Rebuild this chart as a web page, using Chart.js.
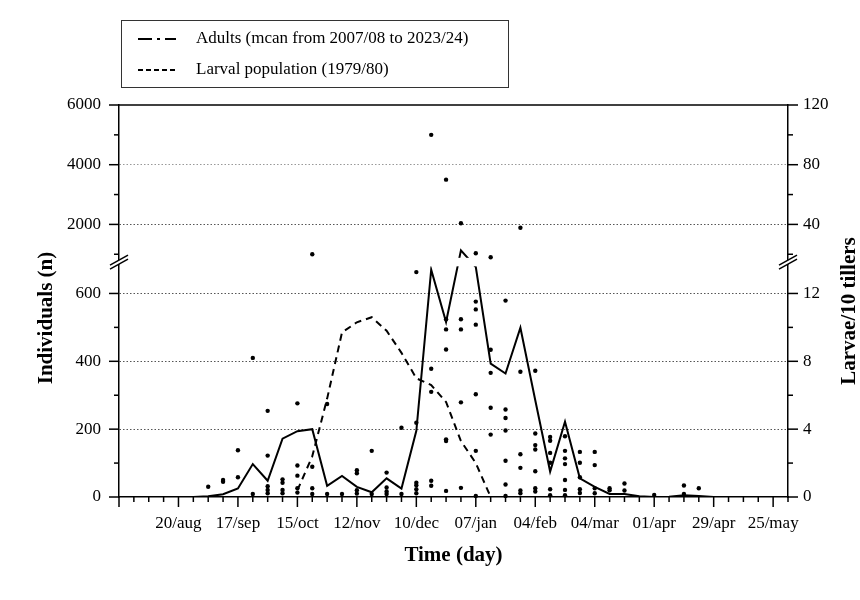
<!DOCTYPE html>
<html>
<head>
<meta charset="utf-8">
<script src="https://cdn.jsdelivr.net/npm/chart.js@4.4.0/dist/chart.umd.min.js"></script>
<style>
  html, body { margin: 0; padding: 0; background: #fff; }
</style>
</head>
<body>
<canvas id="myChart" width="860" height="600"></canvas>
<script>
// one category per week, 23/jul .. 01/jun, labelled every 4 weeks
const weekNames = ['20/aug', '17/sep', '15/oct', '12/nov', '10/dec', '07/jan', '04/feb', '04/mar', '01/apr', '29/apr', '25/may'];
const weekLabels = Array.from({ length: 46 }, (_, i) => (i > 0 && i % 4 === 0) ? weekNames[i / 4 - 1] : '');

// adults, mean 2007/08 - 2023/24 (individuals)
const adults = [null, null, null, null, null, 0, 2, 8, 25, 97, 48, 172, 194, 200, 33, 62, 30, 14, 55, 25,
  195, 670, 516, 1130, 678, 393, 364, 499, 285, 75, 222, 55, 30, 9, 9, 2, 0, 1, 5, 3, 0, null, null, null, null, null];

// larval population 1979/80 (larvae / 10 tillers)
const larvae = [null, null, null, null, null, null, null, null, null, null, null, null,
  0.4, 2.4, 5.8, 9.7, 10.3, 10.6, 9.8, 8.5, 7.0, 6.6, 5.6, 3.3, 2.0, 0,
  null, null, null, null, null, null, null, null, null, null, null, null, null, null, null, null, null, null, null, null];

// single seasons, per week (individuals)
const yearlyCounts = [
  [], [], [], [], [], [],
  [30], [45, 50], [138, 58], [410, 9], [254, 122, 32, 21, 11], [52, 42, 21, 11],
  [276, 93, 63, 26, 13], [1000, 89, 26, 9], [274, 9], [9], [79, 70, 20, 10], [136, 9],
  [72, 28, 16, 9], [204, 9], [663, 219, 42, 35, 23, 11], [5000, 378, 310, 48, 33],
  [3500, 524, 494, 435, 170, 165, 18], [2040, 524, 494, 279, 27],
  [1035, 576, 553, 508, 303, 136, 3], [900, 434, 366, 263, 184],
  [579, 258, 233, 196, 107, 37, 3], [1890, 369, 126, 86, 19, 11],
  [372, 187, 153, 140, 76, 26, 16], [177, 166, 130, 101, 23, 5],
  [179, 136, 114, 97, 50, 21, 5], [133, 101, 58, 23, 12], [133, 94, 26, 11],
  [26, 20], [40, 19], [], [6], [], [34, 9], [26],
  [], [], [], [], [], []
];

const leftMajor = [0, 200, 400, 600, 2000, 4000, 6000];
const leftMinor = [100, 300, 500, 1000, 3000, 5000];
const rightMajor = [0, 4, 8, 12, 40, 80, 120];
const rightMinor = [2, 6, 10, 20, 60, 100];
const larvaeToAdults = 50;   // right axis = left axis / 50

// broken axis: 0-680 below, 880-6000 above, compressed
const lowMax = 680, highMin = 880, gapUnits = 25, highRatio = 0.088;
function toAxis(v) {
  if (v == null) return null;
  if (v <= lowMax) return v;
  if (v >= highMin) return lowMax + gapUnits + (v - highMin) * highRatio;
  return lowMax + (v - lowMax) / (highMin - lowMax) * gapUnits;
}

const leftTicks = leftMajor.concat(leftMinor).sort((a, b) => a - b);
const rightTicks = rightMajor.concat(rightMinor).sort((a, b) => a - b);
const FONT = "'Liberation Serif', 'Times New Roman', serif";

const dotPoints = [];
yearlyCounts.forEach((vals, i) => vals.forEach(v => dotPoints.push({ x: i, y: toAxis(v) })));

function gridColor(ctx) {
  const r = ctx.tick && ctx.tick.real;
  if (r === 4000) return '#999';
  if ([200, 400, 600, 2000].includes(r)) return '#555';
  return 'transparent';
}

function line(ctx, x1, y1, x2, y2) {
  ctx.beginPath(); ctx.moveTo(x1, y1); ctx.lineTo(x2, y2); ctx.stroke();
}

function breakMark(ctx, x, yc) {
  const dx = 9, dy = 5, s = 2;
  ctx.fillStyle = '#fff';
  ctx.beginPath();
  ctx.moveTo(x - dx, yc + dy - s); ctx.lineTo(x + dx, yc - dy - s);
  ctx.lineTo(x + dx, yc - dy + s); ctx.lineTo(x - dx, yc + dy + s);
  ctx.closePath(); ctx.fill();
  line(ctx, x - dx, yc + dy - s, x + dx, yc - dy - s);
  line(ctx, x - dx, yc + dy + s, x + dx, yc - dy + s);
}

const decor = {
  id: 'decor',
  beforeDatasetDraw(chart, args) {
    if (args.index !== 0) return;
    // hide lines inside the axis break
    const { ctx, chartArea: a, scales: { y } } = chart;
    const top = y.getPixelForValue(toAxis(highMin));
    const bot = y.getPixelForValue(toAxis(lowMax));
    ctx.save();
    ctx.fillStyle = '#fff';
    ctx.fillRect(a.left + 1, top, a.width - 2, bot - top);
    ctx.restore();
  },
  afterDraw(chart) {
    const { ctx, chartArea: a, scales: { x, y, yR } } = chart;
    ctx.save();
    ctx.strokeStyle = '#000';
    ctx.lineWidth = 1.5;
    ctx.setLineDash([]);
    line(ctx, a.left, a.top, a.right, a.top);

    leftTicks.forEach(r => {
      const py = y.getPixelForValue(toAxis(r));
      const len = leftMajor.includes(r) ? 10 : 5;
      line(ctx, a.left - len, py, a.left, py);
    });
    rightTicks.forEach(r => {
      const py = yR.getPixelForValue(toAxis(r * larvaeToAdults));
      const len = rightMajor.includes(r) ? 10 : 5;
      line(ctx, a.right, py, a.right + len, py);
    });
    weekLabels.forEach((_, i) => {
      const px = x.getPixelForValue(i);
      const len = i % 4 === 0 ? 10 : 5;
      line(ctx, px, a.bottom, px, a.bottom + len);
    });

    const yc = (y.getPixelForValue(toAxis(highMin)) + y.getPixelForValue(toAxis(lowMax))) / 2;
    breakMark(ctx, a.left, yc);
    breakMark(ctx, a.right, yc);

    // axis titles
    ctx.fillStyle = '#000';
    ctx.font = 'bold 21px ' + FONT;
    ctx.textAlign = 'center';
    ctx.textBaseline = 'middle';
    ctx.fillText('Time (day)', (a.left + a.right) / 2, 556);
    ctx.save(); ctx.translate(47, 318); ctx.rotate(-Math.PI / 2); ctx.fillText('Individuals (n)', 0, 0); ctx.restore();
    ctx.save(); ctx.translate(850, 311); ctx.rotate(-Math.PI / 2); ctx.fillText('Larvae/10 tillers', 0, 0); ctx.restore();

    // legend
    ctx.lineWidth = 1;
    ctx.strokeStyle = '#333';
    ctx.strokeRect(121.5, 20.5, 387, 67);
    ctx.strokeStyle = '#000';
    ctx.lineWidth = 2;
    ctx.setLineDash([14, 5, 3, 5]);
    line(ctx, 138, 39, 176, 39);
    ctx.setLineDash([5, 3]);
    line(ctx, 138, 70, 175, 70);
    ctx.setLineDash([]);
    ctx.font = '17px ' + FONT;
    ctx.textAlign = 'left';
    ctx.fillText('Adults (mcan from 2007/08 to 2023/24)', 196, 39);
    ctx.fillText('Larval population (1979/80)', 196, 70);
    ctx.restore();
  }
};

new Chart(document.getElementById('myChart'), {
  type: 'line',
  data: {
    datasets: [
      {
        label: 'Seasons',
        type: 'scatter',
        data: dotPoints,
        yAxisID: 'y',
        pointRadius: 2.2,
        pointBackgroundColor: '#000',
        pointBorderWidth: 0,
        showLine: false,
        clip: false
      },
      {
        label: 'Adults (mcan from 2007/08 to 2023/24)',
        data: adults.map((v, i) => ({ x: i, y: toAxis(v) })),
        yAxisID: 'y',
        borderColor: '#000',
        borderWidth: 2,
        pointRadius: 0,
        tension: 0
      },
      {
        label: 'Larval population (1979/80)',
        data: larvae.map((v, i) => ({ x: i, y: v == null ? null : toAxis(v * larvaeToAdults) })),
        yAxisID: 'yR',
        borderColor: '#000',
        borderWidth: 2,
        borderDash: [7, 5],
        pointRadius: 0,
        tension: 0
      }
    ]
  },
  options: {
    responsive: false,
    animation: false,
    layout: { padding: { top: 105, left: 0, right: 0, bottom: 0 } },
    plugins: { legend: { display: false }, tooltip: { enabled: false } },
    scales: {
      x: {
        type: 'linear', min: 0, max: weekLabels.length - 1,
        afterBuildTicks: s => { s.ticks = weekLabels.map((_, i) => ({ value: i })); },
        afterFit: s => { s.height = 103; },
        ticks: { autoSkip: false, maxRotation: 0, padding: 6, color: '#000', font: { family: FONT, size: 17 },
          callback: v => weekLabels[v] },
        grid: { drawOnChartArea: false, tickLength: 10, tickColor: 'transparent', color: 'transparent' },
        border: { color: '#000', width: 1.5 }
      },
      y: {
        type: 'linear', position: 'left', min: 0, max: toAxis(6000),
        afterBuildTicks: s => { s.ticks = leftTicks.map(r => ({ value: toAxis(r), real: r })); },
        afterFit: s => { s.width = 119; },
        ticks: { autoSkip: false, padding: 8, color: '#000', font: { family: FONT, size: 17 },
          callback: (v, i) => leftMajor.includes(leftTicks[i]) ? String(leftTicks[i]) : '' },
        grid: { tickLength: 10, tickColor: 'transparent', color: gridColor, lineWidth: 1 },
        border: { color: '#000', width: 1.5, dash: [1.5, 2] }
      },
      yR: {
        type: 'linear', position: 'right', min: 0, max: toAxis(6000),
        afterBuildTicks: s => { s.ticks = rightTicks.map(r => ({ value: toAxis(r * larvaeToAdults), real: r })); },
        afterFit: s => { s.width = 72; },
        ticks: { autoSkip: false, padding: 5, color: '#000', font: { family: FONT, size: 17 },
          callback: (v, i) => rightMajor.includes(rightTicks[i]) ? String(rightTicks[i]) : '' },
        grid: { drawOnChartArea: false, tickLength: 10, tickColor: 'transparent', color: 'transparent' },
        border: { color: '#000', width: 1.5 }
      }
    }
  },
  plugins: [decor]
});
</script>
</body>
</html>
